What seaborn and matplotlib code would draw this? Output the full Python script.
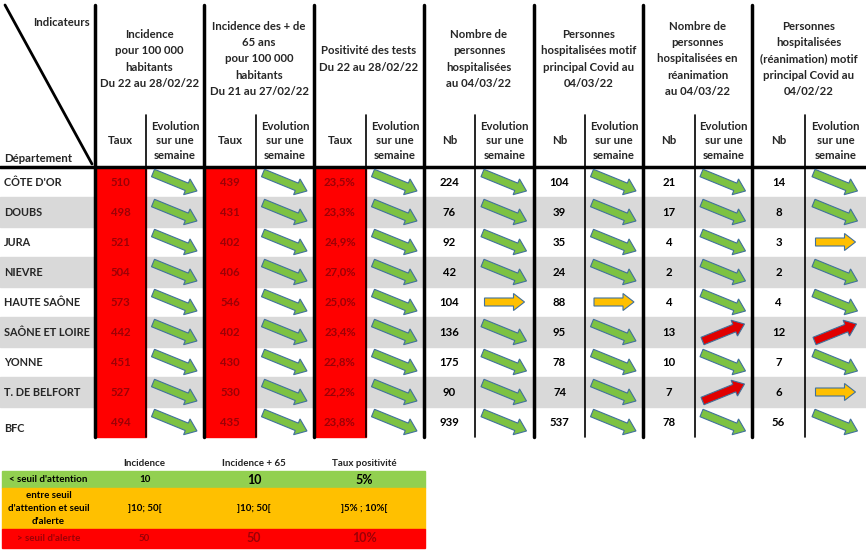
import matplotlib
matplotlib.use("Agg")
import matplotlib.pyplot as plt
from matplotlib.patches import Rectangle, FancyArrow
import seaborn as sns

sns.set_theme(style="white")
plt.rcParams["font.family"] = "Lato"

departements = ["CÔTE D'OR", "DOUBS", "JURA", "NIEVRE", "HAUTE SAÔNE",
                "SAÔNE ET LOIRE", "YONNE", "T. DE BELFORT", "BFC"]
incidence = ["510", "498", "521", "504", "573", "442", "451", "527", "494"]
incidence65 = ["439", "431", "402", "406", "546", "402", "430", "530", "435"]
positivite = ["23,5%", "23,3%", "24,9%", "27,0%", "25,0%", "23,4%", "22,8%", "22,2%", "23,8%"]
hospit = ["224", "76", "92", "42", "104", "136", "175", "90", "939"]
hospit_covid = ["104", "39", "35", "24", "88", "95", "78", "74", "537"]
rea = ["21", "17", "4", "2", "4", "13", "10", "7", "78"]
rea_covid = ["14", "8", "3", "2", "4", "12", "7", "6", "56"]
# trends: d = baisse (vert), s = stable (orange), u = hausse (rouge)
tr_incidence = ["d"] * 9
tr_incidence65 = ["d"] * 9
tr_positivite = ["d"] * 9
tr_hospit = ["d", "d", "d", "d", "s", "d", "d", "d", "d"]
tr_hospit_covid = ["d", "d", "d", "d", "s", "d", "d", "d", "d"]
tr_rea = ["d", "d", "d", "d", "d", "u", "d", "u", "d"]
tr_rea_covid = ["d", "d", "s", "d", "d", "u", "d", "s", "d"]

headers = ["Incidence\npour 100 000\nhabitants\nDu 22 au 28/02/22",
           "Incidence des + de\n65 ans\npour 100 000\nhabitants\nDu 21 au 27/02/22",
           "Positivité des tests\nDu 22 au 28/02/22",
           "Nombre de\npersonnes\nhospitalisées\nau 04/03/22",
           "Personnes\nhospitalisées motif\nprincipal Covid au\n04/03/22",
           "Nombre de\npersonnes\nhospitalisées en\nréanimation\nau 04/03/22",
           "Personnes\nhospitalisées\n(réanimation) motif\nprincipal Covid au\n04/02/22"]
sub_labels = ["Taux", "Taux", "Taux", "Nb", "Nb", "Nb", "Nb"]
values = [incidence, incidence65, positivite, hospit, hospit_covid, rea, rea_covid]
trends = [tr_incidence, tr_incidence65, tr_positivite, tr_hospit, tr_hospit_covid, tr_rea, tr_rea_covid]
red_cols = [True, True, True, False, False, False, False]

leg_cols = ["Incidence", "Incidence + 65", "Taux positivité"]
leg_rows = ["< seuil d'attention", "entre seuil\nd'attention et seuil\nd'alerte", "> seuil d'alerte"]
leg_vals = [["10", "10", "5%"], ["]10; 50[", "]10; 50[", "]5% ; 10%["], ["50", "50", "10%"]]

fig = plt.figure(figsize=(8.66, 5.5), dpi=100)
ax = fig.add_axes([0, 0, 1, 1])
ax.set_xlim(0, 866)
ax.set_ylim(550, 0)
ax.axis("off")

group_x = [95, 204, 314, 424, 534, 643, 752, 866]
split_x = [146, 256, 366, 475, 585, 695, 805]
top, head_y, sub_y, row_h = 5, 167, 115, 30
n = len(departements)
bottom = head_y + row_h * n

GRAY = "#D9D9D9"
RED = "#FF0000"
DARKRED = "#9C0006"

for i in range(n):
    if i % 2 == 1:
        ax.add_patch(Rectangle((0, head_y + i * row_h), 866, row_h, color=GRAY, zorder=0))
for g in range(7):
    if red_cols[g]:
        ax.add_patch(Rectangle((group_x[g] + 1, head_y), split_x[g] - group_x[g] - 1,
                               bottom - head_y, color=RED, zorder=1))

for x in group_x[:-1]:
    ax.plot([x, x], [top, bottom], color="black", lw=2.5, zorder=3)
for x in split_x:
    ax.plot([x, x], [sub_y, bottom], color="black", lw=1.2, zorder=3)
ax.plot([0, 866], [head_y, head_y], color="black", lw=2.5, zorder=3)
ax.plot([5, 92], [5, head_y - 3], color="black", lw=2, zorder=3)

fs = 8.2
ax.text(90, 22, "Indicateurs", ha="right", va="center", fontsize=fs, fontweight="bold")
ax.text(4, 158, "Département", ha="left", va="center", fontsize=fs, fontweight="bold")

for g in range(7):
    cx = (group_x[g] + group_x[g + 1]) / 2
    ax.text(cx, 59, headers[g], ha="center", va="center", fontsize=fs,
            fontweight="bold", linespacing=1.6)
    c1 = (group_x[g] + split_x[g]) / 2
    c2 = (split_x[g] + group_x[g + 1]) / 2
    ax.text(c1, 141, sub_labels[g], ha="center", va="center", fontsize=fs, fontweight="bold")
    ax.text(c2, 141, "Evolution\nsur une\nsemaine", ha="center", va="center",
            fontsize=fs, fontweight="bold", linespacing=1.4)

arrow_style = {"d": ((-22, -9), (44, 18), "#7DC242"),
               "s": ((-20, 0), (40, 0), "#FFC000"),
               "u": ((-21, 9), (42, -17), "#E00000")}

for i in range(n):
    cy = head_y + i * row_h + row_h / 2
    ly = cy + (7 if i == n - 1 else 0)
    ax.text(4, ly, departements[i], ha="left", va="center", fontsize=7.8, fontweight="bold")
    for g in range(7):
        c1 = (group_x[g] + split_x[g]) / 2
        c2 = (split_x[g] + group_x[g + 1]) / 2
        ax.text(c1, cy, values[g][i], ha="center", va="center", fontsize=fs,
                fontweight="bold", color=DARKRED if red_cols[g] else "black", zorder=4)
        (ox, oy), (dx, dy), col = arrow_style[trends[g][i]]
        ax.add_patch(FancyArrow(c2 + ox, cy + oy, dx, dy, width=8, head_width=17,
                                head_length=11, length_includes_head=True,
                                fc=col, ec="#41719C", lw=0.8, zorder=4))

lx = [2, 95, 204, 314, 425]
ly = [471, 488, 529, 548]
leg_colors = ["#92D050", "#FFC000", "#FF0000"]
for j, name in enumerate(leg_cols):
    ax.text((lx[j + 1] + lx[j + 2]) / 2 - 5, 464, name, ha="center", va="center",
            fontsize=7, fontweight="bold", color="#222222")
for r in range(3):
    ax.add_patch(Rectangle((lx[0], ly[r]), lx[-1] - lx[0], ly[r + 1] - ly[r],
                           color=leg_colors[r], zorder=1))
    cy = (ly[r] + ly[r + 1]) / 2
    tc = DARKRED if r == 2 else "black"
    ax.text((lx[0] + lx[1]) / 2, cy, leg_rows[r], ha="center", va="center",
            fontsize=7, fontweight="bold", color=tc, linespacing=1.5)
    for j in range(3):
        ax.text((lx[j + 1] + lx[j + 2]) / 2 - 5, cy, leg_vals[r][j], ha="center",
                va="center", fontsize=7 if j == 0 or r == 1 else 9,
                fontweight="bold", color=tc)

fig.savefig("out.png", dpi=100)
